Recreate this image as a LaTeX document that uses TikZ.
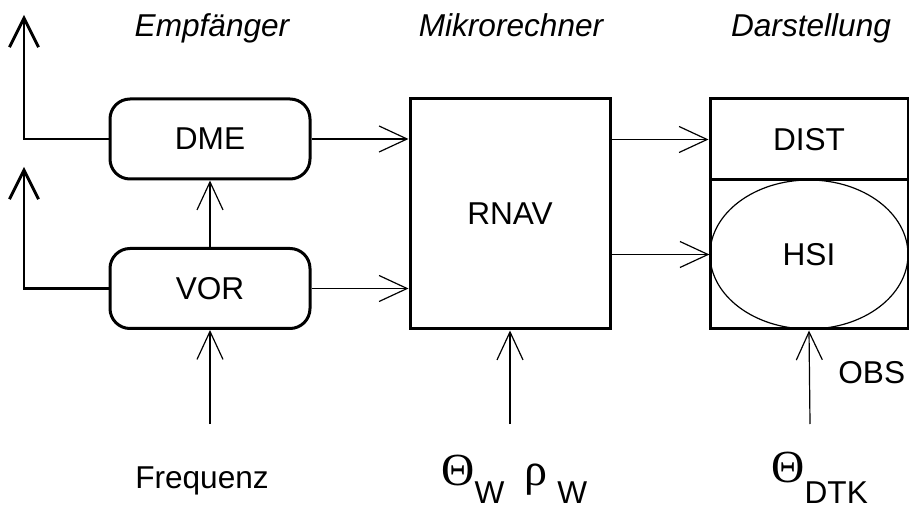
\documentclass[tikz,border=0pt]{standalone}
\usepackage{fontspec}
\setmainfont{Liberation Sans}
\newfontfamily\greekfont{Liberation Serif}
\usetikzlibrary{arrows.meta,shapes.geometric,positioning}
\newcommand{\bigsym}[1]{{\greekfont\fontsize{23}{25}\selectfont #1}}
\tikzset{
  unit/.style={draw,line width=1.5pt,minimum width=100pt,inner sep=0pt},
  receiver/.style={unit,rounded corners=10pt,minimum height=40pt},
  heading/.style={anchor=base,inner sep=0pt,font=\fontsize{15.8}{18}\selectfont\itshape},
  flow/.style={-{Straight Barb[length=14pt,width=13pt]},line width=0.6pt},
  antenna/.style={-{Straight Barb[length=14.5pt,width=14.5pt]},line width=1.4pt}
}

\begin{document}
\begin{tikzpicture}[x=0.5pt,y=-0.5pt,font=\fontsize{15.8}{18}\selectfont]
\useasboundingbox (0,0) rectangle (909,507);
% headings
\node[heading] (hrx) at (212,37) {Empfänger};
\node[heading] (hcpu) at (511,37) {Mikrorechner};
\node[heading] (hdisp) at (811,37) {Darstellung};
% receivers
\node[receiver] (dme) at (210,139) {DME};
\node[receiver] (vor) at (210,288.5) {VOR};
% computer
\node[unit,minimum height=115pt] (rnav) at (510,214) {RNAV};
% display
\node[unit,minimum width=99pt,minimum height=40.5pt] (dist) at (809,139.5) {DIST};
\node[unit,minimum width=99pt,minimum height=74.5pt] (hsibox) at (809,254.5) {};
\node[draw,ellipse,line width=0.6pt,inner sep=0pt,minimum width=99pt,minimum height=74.5pt] (hsi) at (hsibox.center) {HSI};
% inputs
\node[anchor=base,inner sep=0pt] (freq) at (202,488) {Frequenz};
\node[anchor=base west,inner sep=0pt] (wind) at (441,485)
  {\bigsym{Θ}\raisebox{-9pt}{W}\hspace{10pt}\bigsym{ρ}\hspace{5pt}\raisebox{-9pt}{W}};
\node[anchor=base west,inner sep=0pt] (dtk) at (771,482) {\bigsym{Θ}\raisebox{-10.5pt}{DTK}};
\node[anchor=base west,inner sep=0pt] (obs) at (838,383) {OBS};
\coordinate (fin) at (210,424);
\coordinate (win) at (510,424);
\coordinate (obsin) at (810,424);
\coordinate (dmeant) at (24,15);
\coordinate (vorant) at (24,167);
% connectors
\draw[antenna] (dme.west) -| (dmeant);
\draw[antenna] (vor.west) -| (vorant);
\draw[flow] (vor.north) -- (dme.south);
\draw[flow] (dme.east) -- (dme.east -| rnav.west);
\draw[flow] (vor.east) -- (vor.east -| rnav.west);
\draw[flow] (rnav.east |- dist.west) -- (dist.west);
\draw[flow] (rnav.east |- hsi.west) -- (hsi.west);
\draw[flow] (fin) -- (vor.south);
\draw[flow] (win) -- (rnav.south);
\draw[flow] (obsin) -- (hsibox.south);
\end{tikzpicture}
\end{document}
